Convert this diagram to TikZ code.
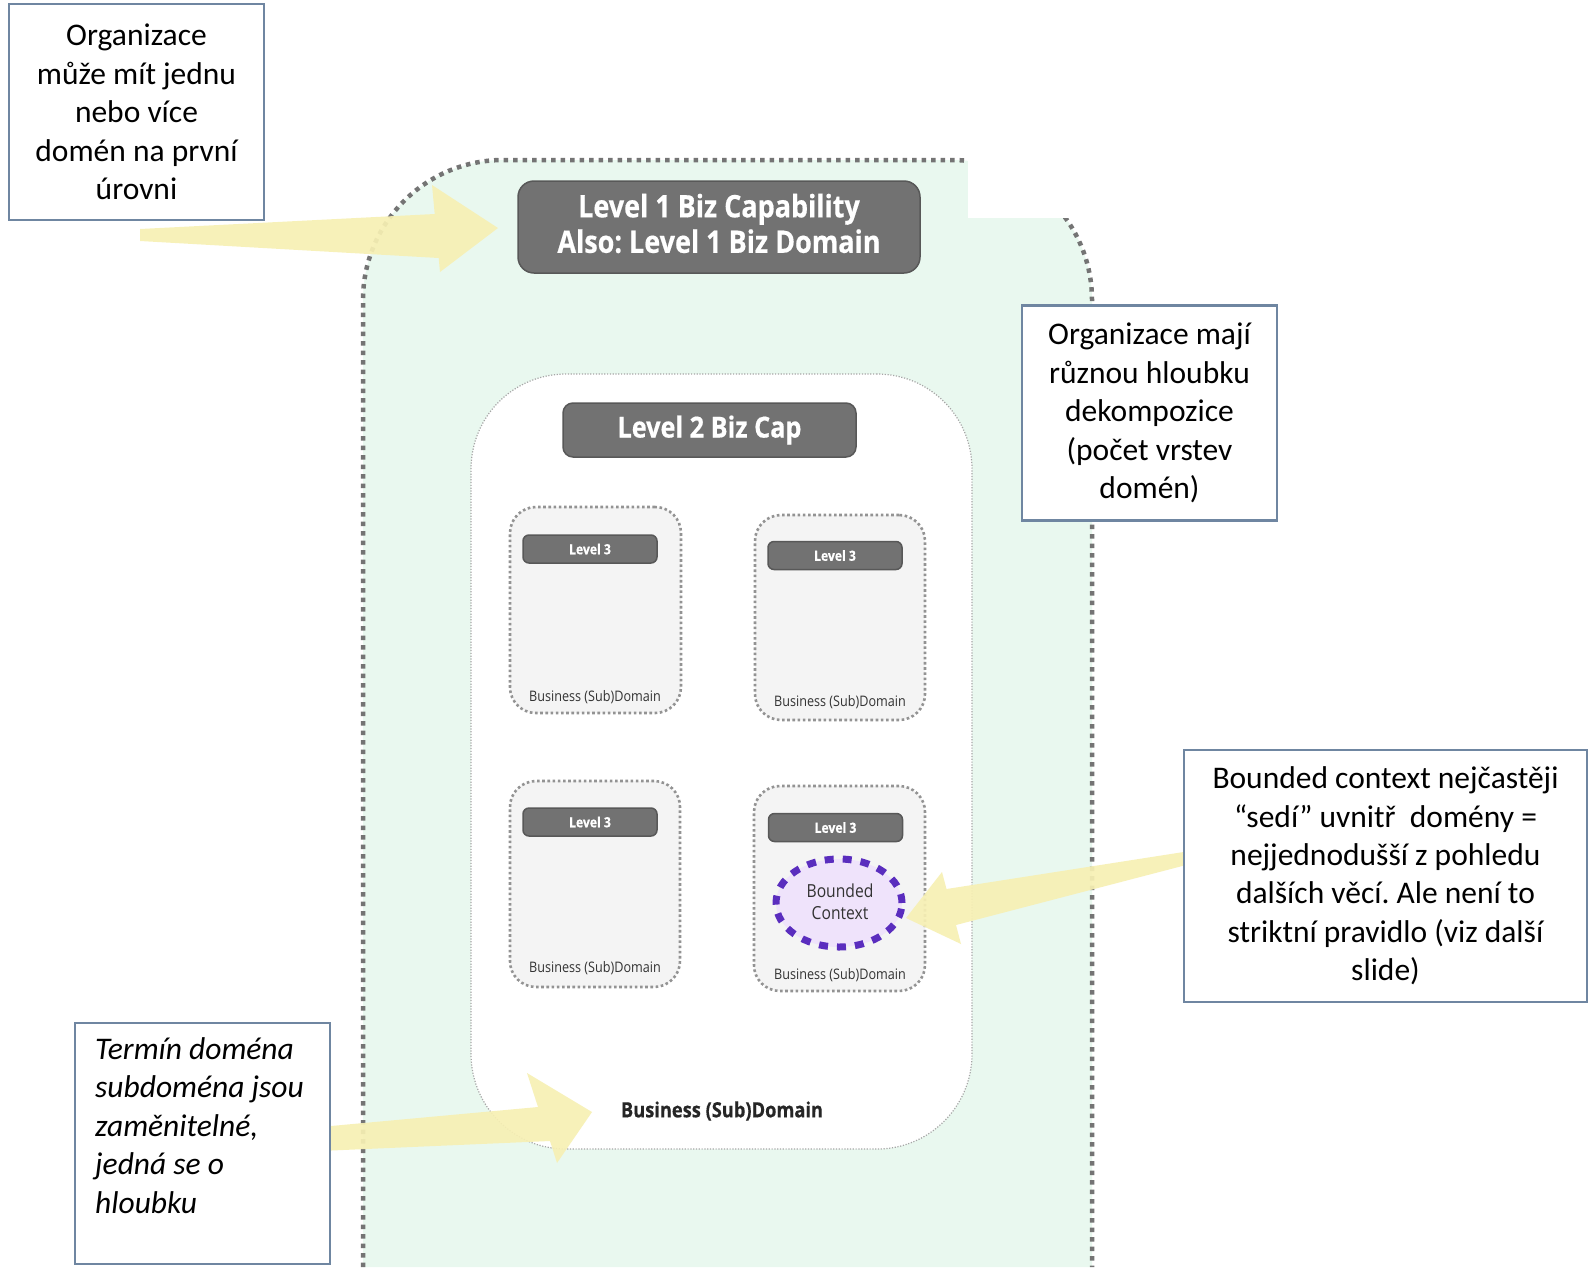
\documentclass[tikz,border=0pt]{standalone}
\usepackage{fontspec}
\setmainfont{Carlito}
\newfontfamily\osans[FakeStretch=0.87, BoldFeatures={FakeBold=0.5}]{Open Sans}
\usetikzlibrary{shapes.geometric}
\frenchspacing
\definecolor{mint}{HTML}{E9F8EF}
\definecolor{dotgray}{HTML}{747474}
\definecolor{hdrfill}{HTML}{727272}
\definecolor{hdrdraw}{HTML}{585858}
\definecolor{lthree}{HTML}{F4F4F4}
\definecolor{annotc}{HTML}{6F86A1}
\definecolor{arrowc}{HTML}{F7F0B4}
\definecolor{bcfill}{HTML}{EFE3FB}
\definecolor{bcdraw}{HTML}{5A2DBE}
\tikzset{
  greendot/.style={draw=dotgray, line width=4.5pt, dash pattern=on 4.5pt off 5pt},
  ltwobox/.style={draw=gray!70, fill=white, line width=1.2pt, dash pattern=on 1.2pt off 1.6pt, rounded corners=95pt, inner sep=0},
  hdr/.style={draw=hdrdraw, fill=hdrfill, line width=1.5pt, text=white, inner sep=0, align=center},
  lthreebox/.style={draw=gray!85, fill=lthree, line width=2.6pt, dash pattern=on 2.6pt off 2.6pt, rounded corners=26pt, inner sep=0},
  lthreehdr/.style={hdr, minimum width=134pt, minimum height=28pt, rounded corners=6pt, font=\osans\bfseries\fontsize{14}{16}\selectfont},
  smalllabel/.style={inner sep=0, text=black!80, font=\osans\fontsize{14.5}{17}\selectfont},
  annot/.style={draw=annotc, fill=white, line width=2.5pt, inner sep=0, align=center, font=\fontsize{31.5}{38.4}\selectfont},
  arrowshape/.style={fill=arrowc, opacity=0.92},
  bcshape/.style={ellipse, draw=bcdraw, fill=bcfill, line width=7pt, dash pattern=on 9pt off 9pt, inner sep=0}
}
\begin{document}
\begin{tikzpicture}[x=1pt,y=-1pt]
\useasboundingbox (0,0) rectangle (1595,1267);
\fill[white] (0,0) rectangle (1595,1267);
% green level-1 area
\fill[mint] (363,1267) -- (363,700) [rounded corners=140pt] -- (363,160) -- (1092,160) -- (1092,700) [sharp corners] -- (1092,1267) -- cycle;
\draw[greendot] (363,1267) -- (363,700) [rounded corners=140pt] -- (363,160) -- (1092,160) -- (1092,700) [sharp corners] -- (1092,1267);
\fill[white] (968,140) rectangle (1232,218);
% level 2 box
\node[ltwobox, minimum width=501pt, minimum height=775pt] (l2box) at (721.5,761.5) {};
% level 1 header
\node[hdr, minimum width=402pt, minimum height=92pt, rounded corners=16pt] (l1) at (719,227) {};
\node[inner sep=0, align=center, text=white, font=\osans\bfseries\fontsize{31}{35.5}\selectfont] (l1t) at (719,223.5) {Level 1 Biz Capability\\Also: Level 1 Biz Domain};
% level 2 header
\node[hdr, minimum width=293pt, minimum height=54pt, rounded corners=10pt, font=\osans\bfseries\fontsize{29}{33}\selectfont] (l2) at (709.5,430) {Level 2 Biz Cap};
% level 3 boxes
\node[lthreebox, minimum width=171pt, minimum height=206pt] (b1) at (595.5,610) {};
\node[lthreebox, minimum width=170pt, minimum height=205pt] (b2) at (840,617.5) {};
\node[lthreebox, minimum width=170pt, minimum height=206pt] (b3) at (595,884) {};
\node[lthreebox, minimum width=171pt, minimum height=205pt] (b4) at (839.5,888.5) {};
\node[lthreehdr] (h1) at (590,549) {Level 3};
\node[lthreehdr] (h2) at (835,555.5) {Level 3};
\node[lthreehdr] (h3) at (590,822) {Level 3};
\node[lthreehdr] (h4) at (835.5,827.5) {Level 3};
\node[smalllabel] (s1) at (595,697) {Business (Sub)Domain};
\node[smalllabel] (s2) at (840,702) {Business (Sub)Domain};
\node[smalllabel] (s3) at (595,968) {Business (Sub)Domain};
\node[smalllabel] (s4) at (840,975) {Business (Sub)Domain};
% bounded context
\node[bcshape, minimum width=126pt, minimum height=88pt] (bc) at (839,903) {};
\node[inner sep=0, align=center, text=black!80, font=\osans\fontsize{18}{22}\selectfont] (bct) at (840,902) {Bounded\\Context};
% bottom label
\node[inner sep=0, text=black!85, font=\osans\bfseries\fontsize{21}{24}\selectfont] (bl) at (722,1111) {Business (Sub)Domain};
% yellow arrows
\fill[arrowshape] (140,229) -- (434.7,214) -- (432,185) -- (498,228) -- (440,272) -- (438.7,258) -- (140,241) -- cycle;
\fill[arrowshape] (320,1127) -- (538,1107) -- (527,1073) -- (592,1112) -- (557,1163) -- (550,1141) -- (320,1151) -- cycle;
\fill[arrowshape] (1190,851) -- (946.5,889) -- (942,872) -- (906,918) -- (961,944) -- (956,925) -- (1190,864) -- cycle;
% annotation boxes
\node[annot, minimum width=255pt, minimum height=216pt] (a1) at (136.5,112) {Organizace\\může mít jednu\\nebo více\\domén na první\\úrovni};
\node[annot, minimum width=255pt, minimum height=215pt] (a2) at (1149.5,413) {Organizace mají\\různou hloubku\\dekompozice\\(počet vrstev\\domén)};
\node[annot, minimum width=403pt, minimum height=252pt] (a3) at (1385.5,876) {Bounded context nejčastěji\\“sedí” uvnitř\ \ domény =\\nejjednodušší z pohledu\\dalších věcí. Ale není to\\striktní pravidlo (viz další\\slide)};
\node[annot, minimum width=255pt, minimum height=241pt] (a4) at (202.5,1143.5) {};
\node[anchor=north west, inner sep=0, align=left, font=\itshape\fontsize{31.5}{38.6}\selectfont] (a4t) at (95,1037) {Termín doména\\subdoména jsou\\zaměnitelné,\\jedná se o\\hloubku};
\end{tikzpicture}
\end{document}
